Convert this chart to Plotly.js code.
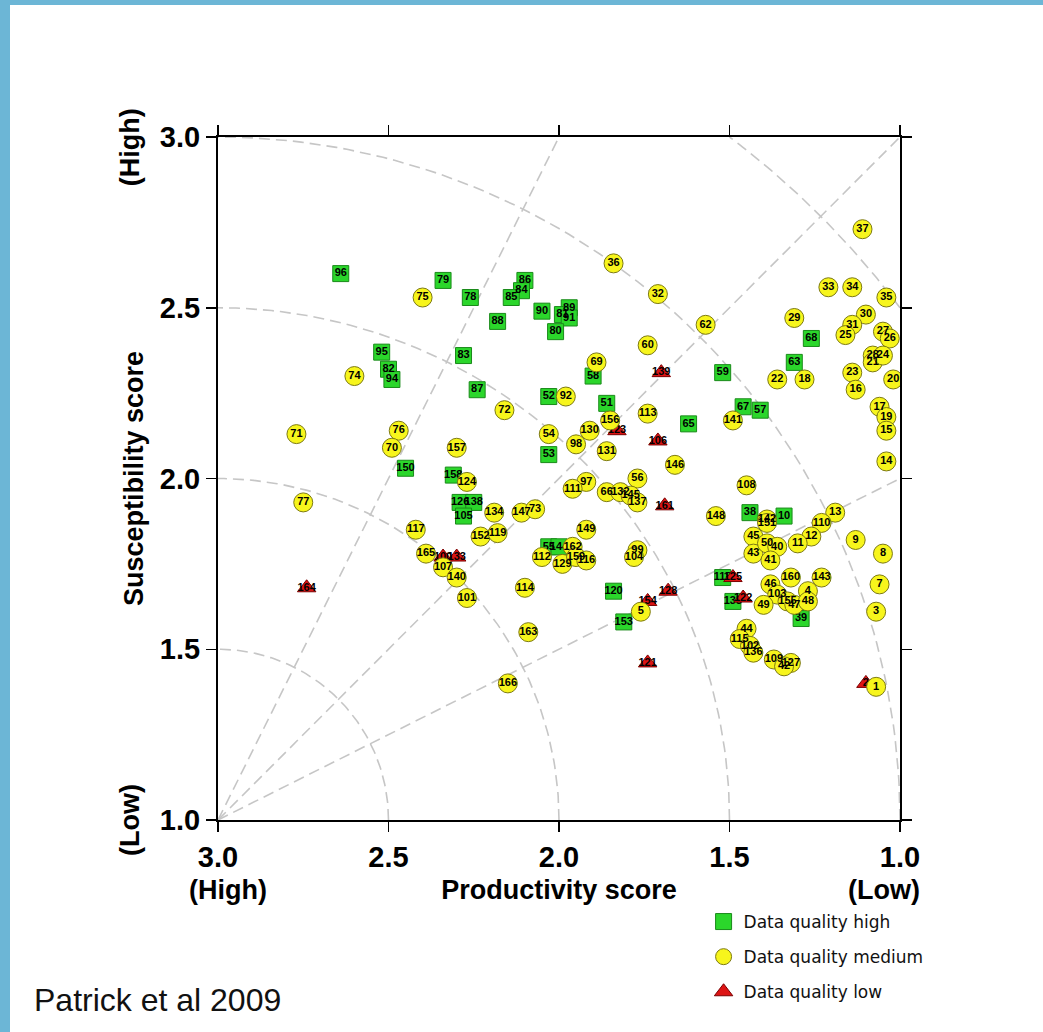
<!DOCTYPE html>
<html>
<head>
<meta charset="utf-8">
<script src="https://cdn.plot.ly/plotly-3.0.1.min.js"></script>
<style>
  html, body { margin: 0; padding: 0; background: #ffffff; }
  #frame { position: absolute; left: 0; top: 0; width: 1043px; height: 1032px;
           border-left: 10px solid #6cb6d6; border-top: 5px solid #6cb6d6; box-sizing: border-box; }
  #chart { position: absolute; left: 0; top: 0; width: 1043px; height: 1032px; }
</style>
</head>
<body>
<div id="frame"></div>
<div id="chart"></div>
<script>
// Aquifer scores: productivity (x, 3 = high) against susceptibility (y, 3 = high)

// Data quality high (green squares)
const hiLabel = ['96','79','78','95','82','94','83','87','86','84','85','88','90','89','81','91','80','58','51','52','53','65','59','68','63','67','57','150','158','126','138','105','55','144','120','153','38','10','135','118','39'];
const hiX = [2.64,2.34,2.26,2.52,2.50,2.49,2.28,2.24,2.10,2.11,2.14,2.18,2.05,1.97,1.99,1.97,2.01,1.90,1.86,2.03,2.03,1.62,1.52,1.26,1.31,1.46,1.41,2.45,2.31,2.29,2.25,2.28,2.03,2.00,1.84,1.81,1.44,1.34,1.49,1.52,1.29];
const hiY = [2.60,2.58,2.53,2.37,2.32,2.29,2.36,2.26,2.58,2.55,2.53,2.46,2.49,2.50,2.48,2.47,2.43,2.30,2.22,2.24,2.07,2.16,2.31,2.41,2.34,2.21,2.20,2.03,2.01,1.93,1.93,1.89,1.80,1.80,1.67,1.58,1.90,1.89,1.64,1.71,1.59];

// Data quality medium (yellow circles)
const medLabel = ['37','36','32','75','74','71','76','70','77','72','69','60','62','29','33','34','35','30','31','25','27','26','28','21','24','23','20','22','18','16','17','19','15','14','141','113','156','130','92','54','98','131','146','56','97','111','66','132','145','137','134','147','73','149','152','119','112','129','162','159','116','99','104','114','5','163','166','124','157','117','165','107','140','101','108','148','142','151','13','110','12','11','9','8','45','43','50','40','41','160','143','7','46','4','103','155','47','48','49','3','44','115','102','136','109','127','42','1'];
const medX = [1.11,1.84,1.71,2.40,2.60,2.77,2.47,2.49,2.75,2.16,1.89,1.74,1.57,1.31,1.21,1.14,1.04,1.10,1.14,1.16,1.05,1.03,1.08,1.08,1.05,1.14,1.02,1.36,1.28,1.13,1.06,1.04,1.04,1.04,1.49,1.74,1.85,1.91,1.98,2.03,1.95,1.86,1.66,1.77,1.92,1.96,1.86,1.82,1.79,1.77,2.19,2.11,2.07,1.92,2.23,2.18,2.05,1.99,1.96,1.95,1.92,1.77,1.78,2.10,1.76,2.09,2.15,2.27,2.30,2.42,2.39,2.34,2.30,2.27,1.45,1.54,1.39,1.39,1.19,1.23,1.26,1.30,1.13,1.05,1.43,1.43,1.39,1.36,1.38,1.32,1.23,1.06,1.38,1.27,1.36,1.33,1.31,1.27,1.40,1.07,1.45,1.47,1.44,1.43,1.37,1.32,1.34,1.07];
const medY = [2.73,2.63,2.54,2.53,2.30,2.13,2.14,2.09,1.93,2.20,2.34,2.39,2.45,2.47,2.56,2.56,2.53,2.48,2.45,2.42,2.43,2.41,2.36,2.34,2.36,2.31,2.29,2.29,2.29,2.26,2.21,2.18,2.14,2.05,2.17,2.19,2.17,2.14,2.24,2.13,2.10,2.08,2.04,2.00,1.99,1.97,1.96,1.96,1.95,1.93,1.90,1.90,1.91,1.85,1.83,1.84,1.77,1.75,1.80,1.77,1.76,1.79,1.77,1.68,1.61,1.55,1.40,1.99,2.09,1.85,1.78,1.74,1.71,1.65,1.98,1.89,1.88,1.87,1.90,1.87,1.83,1.81,1.82,1.78,1.83,1.78,1.81,1.80,1.76,1.71,1.71,1.69,1.69,1.67,1.66,1.64,1.63,1.64,1.63,1.61,1.56,1.53,1.51,1.49,1.47,1.46,1.45,1.39];

// Data quality low (red triangles)
const lowLabel = ['164','100','133','139','123','106','161','128','154','121','2','122','125'];
const lowX = [2.74,2.34,2.30,1.70,1.83,1.71,1.69,1.68,1.74,1.74,1.10,1.46,1.49];
const lowY = [1.68,1.77,1.77,2.31,2.14,2.11,1.92,1.67,1.64,1.46,1.40,1.65,1.71];

// Polar guide lines centred on the (3, 1) corner
const guideRadii = [0.5, 1.0, 1.5, 2.0, 2.5];
const guideSlopes = [0.5, 1, 2];

const gx = [], gy = [];
guideRadii.forEach(r => {
  const t0 = r > 2 ? Math.acos(2 / r) : 0;
  const t1 = r > 2 ? Math.asin(2 / r) : Math.PI / 2;
  const n = 90;
  for (let i = 0; i <= n; i++) {
    const t = t0 + (t1 - t0) * i / n;
    gx.push(3 - r * Math.cos(t));
    gy.push(1 + r * Math.sin(t));
  }
  gx.push(null); gy.push(null);
});
guideSlopes.forEach(s => {
  const dx = Math.min(2, 2 / s);
  gx.push(3, 3 - dx, null);
  gy.push(1, 1 + s * dx, null);
});

const labelFont = { family: 'Liberation Sans, Arial, sans-serif', size: 11, color: '#000000', weight: 'bold' };

const traces = [
  {
    x: gx, y: gy, type: 'scatter', mode: 'lines', showlegend: false, hoverinfo: 'skip',
    line: { color: '#c6c6c6', width: 1.6, dash: '11px,6px' }
  },
  {
    name: 'Data quality high', legendgroup: 'hi', legendrank: 1,
    x: hiX, y: hiY, text: hiLabel, type: 'scatter', mode: 'markers+text',
    textposition: 'middle center', textfont: labelFont,
    marker: { symbol: 'square', size: 16, color: '#2bd62b', line: { color: '#1a8a1a', width: 1 } }
  },
  {
    name: 'Data quality low', legendgroup: 'low', legendrank: 3,
    x: lowX, y: lowY, text: lowLabel, type: 'scatter', mode: 'markers+text',
    textposition: 'middle center', textfont: labelFont,
    marker: { symbol: 'triangle-up', size: 16, color: '#dd1414', line: { color: '#7a0000', width: 1 } }
  },
  {
    name: 'Data quality medium', legendgroup: 'med', legendrank: 2,
    x: medX, y: medY, text: medLabel, type: 'scatter', mode: 'markers+text',
    textposition: 'middle center', textfont: labelFont,
    marker: { symbol: 'circle', size: 19, color: '#f7f51c', line: { color: '#7d7a12', width: 1 } }
  }
];

const tickFont = { family: 'Liberation Sans, Arial, sans-serif', size: 29, color: '#000000', weight: 'bold' };
const titleFont = { family: 'Liberation Sans, Arial, sans-serif', size: 27, color: '#000000', weight: 'bold' };

const axisCommon = {
  dtick: 0.5, tickformat: '.1f', showgrid: false, zeroline: false,
  showline: true, linecolor: '#000000', linewidth: 2, mirror: 'ticks',
  ticks: 'outside', ticklen: 10, tickwidth: 1.5, tickcolor: '#000000',
  tickfont: tickFont
};

const layout = {
  width: 1043, height: 1032,
  margin: { l: 218, r: 143, t: 137, b: 212 },
  paper_bgcolor: 'rgba(0,0,0,0)', plot_bgcolor: '#ffffff',
  hovermode: false,
  xaxis: Object.assign({}, axisCommon, {
    range: [3, 1],
    title: { text: 'Productivity score', font: titleFont, standoff: 8 }
  }),
  yaxis: Object.assign({}, axisCommon, {
    range: [1, 3],
    title: { text: 'Susceptibility score', font: titleFont, standoff: 8 }
  }),
  legend: {
    x: 0.712, y: -0.123, xanchor: 'left', yanchor: 'top',
    bgcolor: 'rgba(0,0,0,0)', borderwidth: 0, traceorder: 'grouped', tracegroupgap: 10,
    font: { family: 'DejaVu Sans, sans-serif', size: 17, color: '#111111' }
  },
  annotations: [
    { text: '(High)', xref: 'paper', yref: 'paper', x: -0.129, y: 0.985, textangle: -90,
      showarrow: false, xanchor: 'center', yanchor: 'middle', font: titleFont },
    { text: '(Low)', xref: 'paper', yref: 'paper', x: -0.129, y: 0.0, textangle: -90,
      showarrow: false, xanchor: 'center', yanchor: 'middle', font: titleFont },
    { text: '(High)', xref: 'paper', yref: 'paper', x: 0.0147, y: -0.1025,
      showarrow: false, xanchor: 'center', yanchor: 'middle', font: titleFont },
    { text: '(Low)', xref: 'paper', yref: 'paper', x: 0.9765, y: -0.1025,
      showarrow: false, xanchor: 'center', yanchor: 'middle', font: titleFont },
    { text: 'Patrick et al 2009', xref: 'paper', yref: 'paper', x: -0.2727, y: -0.2635,
      showarrow: false, xanchor: 'left', yanchor: 'middle',
      font: { family: 'Liberation Sans, Arial, sans-serif', size: 32, color: '#111111' } }
  ]
};

Plotly.newPlot('chart', traces, layout, { displayModeBar: false, staticPlot: true });
</script>
</body>
</html>
